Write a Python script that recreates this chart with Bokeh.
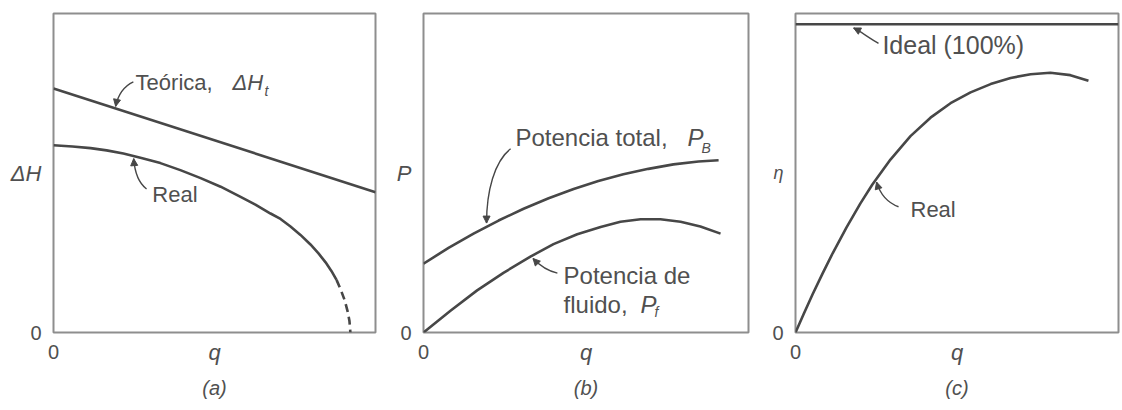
from bokeh.plotting import figure
from bokeh.layouts import row
from bokeh.models import FixedTicker, Range1d, Title, Arrow, NormalHead
from bokeh.core.properties import value
from bokeh.embed import file_html
from bokeh.resources import INLINE

# ---------------- data ----------------
# (a) head against flow rate (fraction of full scale)
q_theory = [0.0, 1.0]
head_theory = [0.765, 0.440]
q_head_real = [0.000, 0.059, 0.115, 0.165, 0.217, 0.273, 0.332, 0.394, 0.457,
               0.519, 0.581, 0.627, 0.674, 0.705, 0.736, 0.767, 0.798, 0.823,
               0.845, 0.863, 0.879, 0.891, 0.904, 0.913, 0.919, 0.922]
head_real = [0.587, 0.583, 0.578, 0.571, 0.561, 0.547, 0.531, 0.509, 0.484,
             0.457, 0.425, 0.401, 0.373, 0.356, 0.332, 0.306, 0.276, 0.248,
             0.220, 0.193, 0.165, 0.137, 0.102, 0.068, 0.037, 0.000]
DASHED_FROM = 20  # the real head curve is extrapolated (dashed) beyond this point

# (b) power against flow rate
q_brake = [0.000, 0.077, 0.154, 0.231, 0.308, 0.385, 0.462, 0.538, 0.615,
           0.692, 0.769, 0.846, 0.908]
power_brake = [0.216, 0.265, 0.310, 0.351, 0.388, 0.421, 0.450, 0.475, 0.496,
               0.513, 0.527, 0.536, 0.540]
q_fluid = [0.000, 0.083, 0.165, 0.246, 0.329, 0.400, 0.473, 0.545, 0.606,
           0.668, 0.729, 0.791, 0.852, 0.914]
power_fluid = [0.000, 0.068, 0.132, 0.187, 0.238, 0.277, 0.308, 0.331, 0.347,
               0.355, 0.355, 0.347, 0.332, 0.310]

# (c) efficiency (%) against flow rate
q_ideal = [0.0, 1.0]
eff_ideal = [100.0, 100.0]
q_eff = [0.000, 0.025, 0.053, 0.084, 0.115, 0.158, 0.201, 0.238, 0.294, 0.356,
         0.418, 0.480, 0.542, 0.604, 0.666, 0.728, 0.789, 0.851, 0.907]
eff_real = [0.0, 5.95, 12.4, 19.2, 25.7, 34.1, 41.9, 48.0, 56.1, 63.7,
            69.7, 74.4, 77.9, 80.6, 82.6, 83.8, 84.3, 83.5, 81.7]

x_ticks = [0]
y_ticks = [0]

# ---------------- style ----------------
FONT = "Liberation Sans"
TEXT = "#505050"
CURVE = "#474747"
FRAME = "#8e8e8e"
LW = 2.6


def panel(width, left, right, top, bottom, y_end, ylabel, ylabel_size, caption):
    p = figure(width=width, height=410, output_backend="svg", toolbar_location=None,
               x_range=Range1d(0, 1), y_range=Range1d(0, y_end),
               min_border_left=left, min_border_right=right,
               min_border_top=top, min_border_bottom=bottom)
    p.grid.visible = False
    p.outline_line_color = FRAME
    p.outline_line_width = 2
    p.background_fill_color = "white"
    p.border_fill_color = "white"
    for ax in (p.xaxis[0], p.yaxis[0]):
        ax.major_tick_line_color = None
        ax.minor_tick_line_color = None
        ax.axis_line_color = None
        ax.major_label_text_font = FONT
        ax.major_label_text_font_size = "20px"
        ax.major_label_text_color = TEXT
        ax.axis_label_text_font = FONT
        ax.axis_label_text_font_style = "italic"
        ax.axis_label_text_color = TEXT
    p.xaxis.ticker = FixedTicker(ticks=x_ticks)
    p.yaxis.ticker = FixedTicker(ticks=y_ticks)
    p.xaxis.axis_label = "q"
    p.xaxis.axis_label_text_font_size = "22px"
    p.xaxis.major_label_standoff = 6
    p.xaxis.axis_label_standoff = -22
    p.yaxis.axis_label = ylabel
    p.yaxis.axis_label_text_font_size = ylabel_size
    p.yaxis.axis_label_orientation = "horizontal"
    p.yaxis.major_label_standoff = 6
    p.yaxis.axis_label_standoff = -14
    p.add_layout(Title(text=caption, align="center", text_font=FONT, text_font_size="20px",
                       text_font_style="italic", text_color=TEXT, standoff=15), "below")
    return p


def label(p, x, y, text, size, italic=False):
    p.text(x=[x], y=[y], text=[text], text_font=value(FONT), text_font_size=size,
           text_color=TEXT, text_align="left", text_baseline="middle",
           text_font_style="italic" if italic else "normal")


def pointer(p, x0, y0, cx0, cy0, cx1, cy1, x1, y1):
    p.bezier(x0=[x0], y0=[y0], cx0=[cx0], cy0=[cy0], cx1=[cx1], cy1=[cy1],
             x1=[x1], y1=[y1], line_color=CURVE, line_width=1.4)
    p.add_layout(Arrow(end=NormalHead(size=7, fill_color=CURVE, line_color=CURVE, line_width=1),
                       x_start=cx1, y_start=cy1, x_end=x1, y_end=y1, line_alpha=0))


# ---------------- (a) ----------------
pa = panel(380, 53, 5, 10, 78, 1.0, "ΔH", "22px", "(a)")
pa.line(q_theory, head_theory, line_color=CURVE, line_width=LW)
pa.line(q_head_real[:DASHED_FROM + 1], head_real[:DASHED_FROM + 1], line_color=CURVE,
        line_width=LW, line_join="round")
pa.line(q_head_real[DASHED_FROM:], head_real[DASHED_FROM:], line_color=CURVE, line_width=LW,
        line_dash="8 5")
label(pa, 0.255, 0.783, "Teórica,", "22px")
label(pa, 0.556, 0.783, "ΔH", "22px", italic=True)
label(pa, 0.655, 0.758, "t", "14px", italic=True)
pointer(pa, 0.248, 0.786, 0.214, 0.770, 0.199, 0.739, 0.193, 0.709)
label(pa, 0.307, 0.432, "Real", "22px")
pointer(pa, 0.289, 0.450, 0.264, 0.469, 0.252, 0.505, 0.249, 0.545)

# ---------------- (b) ----------------
pb = panel(380, 43, 12, 10, 77, 1.0, "P", "22px", "(b)")
pb.line(q_brake, power_brake, line_color=CURVE, line_width=LW, line_join="round")
pb.line(q_fluid, power_fluid, line_color=CURVE, line_width=LW, line_join="round")
label(pb, 0.283, 0.610, "Potencia total,", "24px")
label(pb, 0.812, 0.610, "P", "24px", italic=True)
label(pb, 0.855, 0.579, "B", "14px", italic=True)
pointer(pb, 0.268, 0.576, 0.218, 0.536, 0.194, 0.443, 0.194, 0.343)
label(pb, 0.431, 0.180, "Potencia de", "24px")
label(pb, 0.431, 0.087, "fluido,", "24px")
label(pb, 0.668, 0.087, "P", "24px", italic=True)
label(pb, 0.711, 0.065, "f", "14px", italic=True)
pointer(pb, 0.412, 0.186, 0.375, 0.195, 0.351, 0.217, 0.337, 0.232)

# ---------------- (c) ----------------
pc = panel(362, 35, 4, 13, 77, 103.5, "η", "18px", "(c)")
pc.line(q_ideal, eff_ideal, line_color=CURVE, line_width=LW)
pc.line(q_eff, eff_real, line_color=CURVE, line_width=LW, line_join="round")
label(pc, 0.269, 93.2, "Ideal (100%)", "25px")
pointer(pc, 0.257, 93.8, 0.226, 95.7, 0.201, 97.7, 0.180, 98.8)
label(pc, 0.356, 39.8, "Real", "22px")
pointer(pc, 0.319, 40.8, 0.288, 42.0, 0.263, 44.6, 0.251, 48.8)

layout = row(pa, pb, pc)
open("out.html", "w").write(file_html(layout, INLINE))
